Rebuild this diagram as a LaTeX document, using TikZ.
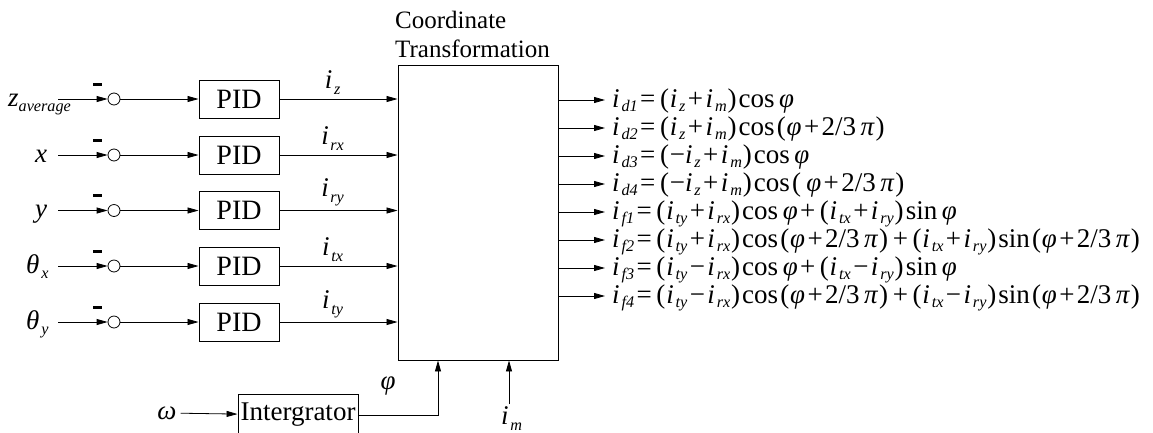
\documentclass[tikz,border=0pt]{standalone}
\usepackage{fontspec}
\setmainfont{Liberation Serif}
\usetikzlibrary{arrows.meta}
\newcommand\lsub[1]{\raisebox{-0.22em}{\scalebox{0.6}{\itshape #1}}}
\newcommand\esub[1]{\raisebox{-0.17em}{\scalebox{0.6}{\itshape #1}}}
\newcommand\vi[1]{\textit{i}\kern0.06em\lsub{#1}}
\newcommand\ei[1]{\textit{i}\kern0.07em\esub{#1}}
\newcommand\phii{\textit{φ}}
\newcommand\pii{\textit{π}}
\newcommand\lp{\kern0.08em(\kern0.03em}
\newcommand\rp{\kern0.03em)\kern0.08em}
\newcommand\op[1]{\kern0.09em#1\kern0.09em}
\tikzset{
  lbl/.style={inner sep=0pt, font=\fontsize{27}{29}\selectfont},
  blk/.style={draw, line width=0.9pt, inner sep=0pt, minimum width=80pt, minimum height=38pt, font=\fontsize{28}{30}\selectfont},
  sumj/.style={draw, circle, line width=0.8pt, minimum size=12pt, inner sep=0pt},
  minus/.style={inner sep=0pt},
  conn/.style={line width=0.8pt, -{Triangle[length=11pt,width=6pt]}},
  eqn/.style={inner sep=0pt, anchor=base west, font=\fontsize{27}{27}\selectfont},
}
\begin{document}
\begin{tikzpicture}[x=1pt,y=-1pt, font=\fontsize{25}{29}\selectfont]
\useasboundingbox (0,0) rectangle (1153,432);
\clip (0,0) rectangle (1153,432);
% coordinate transformation block
\node[blk, minimum width=160pt, minimum height=295pt] (ct) at (478,212.5) {};
\node[inner sep=0pt, anchor=south west, align=left] (title) at (395,58) {Coordinate\\Transformation};
% inputs
\node[lbl, anchor=base west] (in1) at (8,106) {\textit{z}\lsub{average}};
\node[lbl, anchor=base] (in2) at (41,162) {\textit{x}};
\node[lbl, anchor=base] (in3) at (41,217.5) {\textit{y}};
\node[lbl, anchor=base west] (in4) at (26,273) {\textit{θ}\kern2pt\lsub{x}};
\node[lbl, anchor=base west] (in5) at (26,329) {\textit{θ}\kern2pt\lsub{y}};
\foreach \k/\y/\lab in {1/99/z,2/155/rx,3/210.5/ry,4/266/tx,5/322/ty}{
  \coordinate (s\k) at (58,\y);
  \node[sumj] (c\k) at (114,\y) {};
  \node[minus] (m\k) at (97.5,\y-15) {\rule{9pt}{3pt}};
  \node[blk] (pid\k) at (239,\y) {PID};
  \draw[conn] (s\k) -- (c\k);
  \draw[conn] (c\k) -- (pid\k);
  \draw[conn] (pid\k.east) -- node[lbl, above=4pt, pos=0.45] {\vi{\lab}} (pid\k.east -| ct.west);
}
% outputs
\foreach \k/\y in {1/100,2/128,3/156,4/184,5/212,6/240,7/268,8/296}{
  \coordinate (o\k) at (605,\y);
  \draw[conn] (o\k -| ct.east) -- (o\k);
}
\node[eqn] (e1) at (612,107) {\ei{d1}\op{=}\lp\ei{z}\op{+}\ei{m}\rp cos\,\phii};
\node[eqn] (e2) at (612,135) {\ei{d2}\op{=}\lp\ei{z}\op{+}\ei{m}\rp cos\lp\phii\op{+}2/3\,\pii\rp};
\node[eqn] (e3) at (612,163) {\ei{d3}\op{=}\lp−\ei{z}\op{+}\ei{m}\rp cos\,\phii};
\node[eqn] (e4) at (612,191) {\ei{d4}\op{=}\lp−\ei{z}\op{+}\ei{m}\rp cos\lp\,\phii\op{+}2/3\,\pii\rp};
\node[eqn] (e5) at (612,219) {\ei{f1}\op{=}\lp\ei{ty}\op{+}\ei{rx}\rp cos\,\phii\op{+}\lp\ei{tx}\op{+}\ei{ry}\rp sin\,\phii};
\node[eqn] (e6) at (612,247) {\ei{f2}\op{=}\lp\ei{ty}\op{+}\ei{rx}\rp cos\lp\phii\op{+}2/3\,\pii\rp\op{+}\lp\ei{tx}\op{+}\ei{ry}\rp sin\lp\phii\op{+}2/3\,\pii\rp};
\node[eqn] (e7) at (612,275) {\ei{f3}\op{=}\lp\ei{ty}\op{−}\ei{rx}\rp cos\,\phii\op{+}\lp\ei{tx}\op{−}\ei{ry}\rp sin\,\phii};
\node[eqn] (e8) at (612,303) {\ei{f4}\op{=}\lp\ei{ty}\op{−}\ei{rx}\rp cos\lp\phii\op{+}2/3\,\pii\rp\op{+}\lp\ei{tx}\op{−}\ei{ry}\rp sin\lp\phii\op{+}2/3\,\pii\rp};
% bottom
\node[lbl, inner sep=4pt] (w) at (167,413) {\textit{ω}};
\node[blk, minimum width=120pt, minimum height=42pt, font=\fontsize{27}{29}\selectfont] (int) at (298,415) {Intergrator};
\coordinate (turn) at (438,415);
\node[lbl] (phi) at (388,386) {\phii};
\coordinate (ims) at (509,404);
\node[lbl, anchor=north west] (im) at (501,406) {\vi{m}};
\draw[conn] (w) -- (int);
\draw[conn] (int.east |- turn) -- (turn) -- (turn |- ct.south);
\draw[conn] (ims) -- (ims |- ct.south);
\end{tikzpicture}
\end{document}
